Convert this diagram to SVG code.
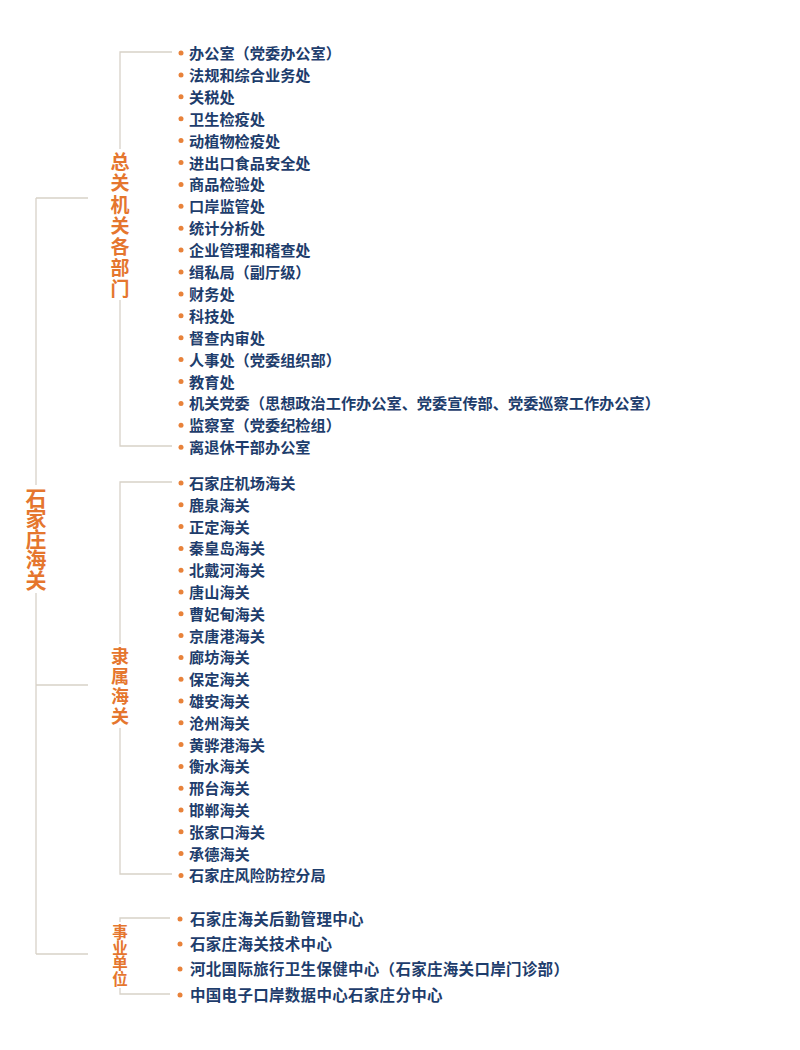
<svg xmlns="http://www.w3.org/2000/svg" width="800" height="1050" viewBox="0 0 800 1050">
<style>
.ln{stroke:#d8d2c8;stroke-width:1.3;fill:none}
.it{font-family:"Noto Sans CJK SC","Noto Sans",sans-serif;font-size:15.2px;fill:#1e3d6c;dominant-baseline:central;font-weight:600}
.it3{font-family:"Noto Sans CJK SC","Noto Sans",sans-serif;font-size:15.5px;fill:#1e3d6c;dominant-baseline:central;font-weight:600;letter-spacing:0.3px}
.lb{font-family:"Noto Sans CJK SC","Noto Sans",sans-serif;fill:#e5762e;writing-mode:vertical-rl;font-weight:600}
.dot{fill:#e8823a}
</style>
<rect width="800" height="1050" fill="#ffffff"/>
<g id="connectors">
<path class="ln" d="M36,198 V485 M36,593 V954 M36,198 H88 M36,685 H88 M36,954 H88"/>
<path class="ln" d="M172,52 H120 V149 M120,300 V446 H172"/>
<path class="ln" d="M172,482 H120 V644 M120,728 V874 H172"/>
<path class="ln" d="M170,918 H120 V922 M120,988 V994 H170"/>
</g>
<g id="root">
<text class="lb" x="36" y="487.5" font-size="21" letter-spacing="-0.5">石家庄海关</text>
</g>
<g id="group1">
<text class="lb" x="120" y="152.5" font-size="19" letter-spacing="2.2">总关机关各部门</text>
<g class="dot" transform="translate(0,1)">
<circle cx="181" cy="52" r="2.5"/><circle cx="181" cy="73.9" r="2.5"/><circle cx="181" cy="95.8" r="2.5"/><circle cx="181" cy="117.7" r="2.5"/><circle cx="181" cy="139.6" r="2.5"/><circle cx="181" cy="161.5" r="2.5"/><circle cx="181" cy="183.4" r="2.5"/><circle cx="181" cy="205.3" r="2.5"/><circle cx="181" cy="227.2" r="2.5"/><circle cx="181" cy="249.1" r="2.5"/><circle cx="181" cy="271" r="2.5"/><circle cx="181" cy="292.9" r="2.5"/><circle cx="181" cy="314.8" r="2.5"/><circle cx="181" cy="336.7" r="2.5"/><circle cx="181" cy="358.6" r="2.5"/><circle cx="181" cy="380.5" r="2.5"/><circle cx="181" cy="402.4" r="2.5"/><circle cx="181" cy="424.3" r="2.5"/><circle cx="181" cy="446.2" r="2.5"/>
</g>
<text class="it" x="189" y="52">办公室（党委办公室）</text>
<text class="it" x="189" y="73.9">法规和综合业务处</text>
<text class="it" x="189" y="95.8">关税处</text>
<text class="it" x="189" y="117.7">卫生检疫处</text>
<text class="it" x="189" y="139.6">动植物检疫处</text>
<text class="it" x="189" y="161.5">进出口食品安全处</text>
<text class="it" x="189" y="183.4">商品检验处</text>
<text class="it" x="189" y="205.3">口岸监管处</text>
<text class="it" x="189" y="227.2">统计分析处</text>
<text class="it" x="189" y="249.1">企业管理和稽查处</text>
<text class="it" x="189" y="271">缉私局（副厅级）</text>
<text class="it" x="189" y="292.9">财务处</text>
<text class="it" x="189" y="314.8">科技处</text>
<text class="it" x="189" y="336.7">督查内审处</text>
<text class="it" x="189" y="358.6">人事处（党委组织部）</text>
<text class="it" x="189" y="380.5">教育处</text>
<text class="it" x="189" y="402.4">机关党委（思想政治工作办公室、党委宣传部、党委巡察工作办公室）</text>
<text class="it" x="189" y="424.3">监察室（党委纪检组）</text>
<text class="it" x="189" y="446.2">离退休干部办公室</text>
</g>
<g id="group2">
<text class="lb" x="120" y="647" font-size="18" letter-spacing="2">隶属海关</text>
<g class="dot" transform="translate(0,1)">
<circle cx="181" cy="482" r="2.5"/><circle cx="181" cy="503.8" r="2.5"/><circle cx="181" cy="525.6" r="2.5"/><circle cx="181" cy="547.4" r="2.5"/><circle cx="181" cy="569.2" r="2.5"/><circle cx="181" cy="591" r="2.5"/><circle cx="181" cy="612.8" r="2.5"/><circle cx="181" cy="634.6" r="2.5"/><circle cx="181" cy="656.4" r="2.5"/><circle cx="181" cy="678.2" r="2.5"/><circle cx="181" cy="700" r="2.5"/><circle cx="181" cy="721.8" r="2.5"/><circle cx="181" cy="743.6" r="2.5"/><circle cx="181" cy="765.4" r="2.5"/><circle cx="181" cy="787.2" r="2.5"/><circle cx="181" cy="809" r="2.5"/><circle cx="181" cy="830.8" r="2.5"/><circle cx="181" cy="852.6" r="2.5"/><circle cx="181" cy="874.4" r="2.5"/>
</g>
<text class="it" x="189" y="482">石家庄机场海关</text>
<text class="it" x="189" y="503.8">鹿泉海关</text>
<text class="it" x="189" y="525.6">正定海关</text>
<text class="it" x="189" y="547.4">秦皇岛海关</text>
<text class="it" x="189" y="569.2">北戴河海关</text>
<text class="it" x="189" y="591">唐山海关</text>
<text class="it" x="189" y="612.8">曹妃甸海关</text>
<text class="it" x="189" y="634.6">京唐港海关</text>
<text class="it" x="189" y="656.4">廊坊海关</text>
<text class="it" x="189" y="678.2">保定海关</text>
<text class="it" x="189" y="700">雄安海关</text>
<text class="it" x="189" y="721.8">沧州海关</text>
<text class="it" x="189" y="743.6">黄骅港海关</text>
<text class="it" x="189" y="765.4">衡水海关</text>
<text class="it" x="189" y="787.2">邢台海关</text>
<text class="it" x="189" y="809">邯郸海关</text>
<text class="it" x="189" y="830.8">张家口海关</text>
<text class="it" x="189" y="852.6">承德海关</text>
<text class="it" x="189" y="874.4">石家庄风险防控分局</text>
</g>
<g id="group3">
<text class="lb" x="120" y="924.5" font-size="15.5" letter-spacing="0">事业单位</text>
<g class="dot" transform="translate(0,1)">
<circle cx="180" cy="918" r="2.5"/><circle cx="180" cy="943" r="2.5"/><circle cx="180" cy="968" r="2.5"/><circle cx="180" cy="994" r="2.5"/>
</g>
<text class="it3" x="190" y="918">石家庄海关后勤管理中心</text>
<text class="it3" x="190" y="943">石家庄海关技术中心</text>
<text class="it3" x="190" y="968">河北国际旅行卫生保健中心（石家庄海关口岸门诊部）</text>
<text class="it3" x="190" y="994">中国电子口岸数据中心石家庄分中心</text>
</g>
</svg>
